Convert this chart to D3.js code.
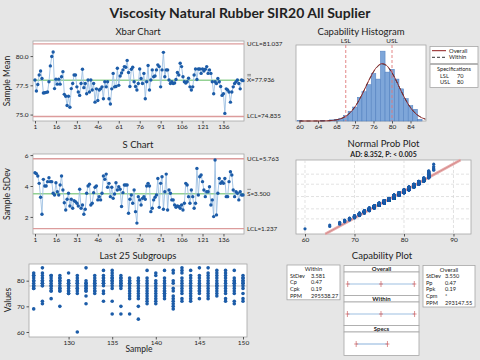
<!DOCTYPE html>
<html>
<head>
<meta charset="utf-8">
<script src="https://cdn.jsdelivr.net/npm/d3@7"></script>
<style>
  body { margin: 0; background: #e6e6e6; }
  text { font-family: Lato, "Noto Sans", sans-serif; fill: #222; }
</style>
</head>
<body>
<div id="chart"></div>
<script>
// ---- data ----
var chartTitle = "Viscosity Natural Rubber SIR20 All Suplier";

// subgroup means, subgroups 1..150 (n = 12)
var xbarMeans = [77.95,77.02,77.57,78.38,78.73,78.09,76.84,76.87,76.90,76.93,
  77.80,79.16,79.97,80.35,77.22,78.03,77.60,78.03,77.60,78.23,
  78.67,76.73,76.56,75.77,76.56,75.63,77.22,77.65,78.38,78.38,
  77.37,76.93,76.64,77.65,78.87,77.30,77.65,76.78,77.95,76.93,
  77.95,77.10,77.65,76.06,77.20,76.20,77.10,77.20,77.37,76.35,
  77.80,77.37,77.80,76.35,75.90,77.20,78.52,77.37,77.40,78.96,
  77.50,78.30,78.55,78.82,79.10,79.05,79.63,78.60,77.40,78.87,
  79.05,77.80,77.40,77.10,77.65,78.90,78.09,77.65,78.52,76.35,
  77.80,79.19,77.10,77.95,78.82,78.23,78.30,78.82,79.25,79.10,
  77.37,78.82,80.32,78.23,78.82,78.82,77.95,77.65,77.80,77.65,
  77.70,78.00,78.60,78.38,79.39,79.10,78.23,77.80,77.70,77.80,
  78.10,77.37,77.10,77.37,78.38,78.90,78.00,78.90,78.90,78.52,
  78.90,78.73,78.87,79.10,78.52,78.82,78.52,77.80,76.78,77.80,
  77.65,78.09,77.80,77.40,76.64,76.78,75.10,77.20,77.10,76.93,
  76.06,76.93,77.37,77.65,77.80,77.95,77.65,77.20,77.95,77.90];

// subgroup standard deviations, subgroups 1..150
var sDevs = [4.86,4.80,4.65,4.17,3.27,2.17,4.43,4.00,4.00,4.28,
  4.54,4.28,4.28,3.53,3.42,4.21,3.63,3.42,4.06,4.65,
  3.74,2.92,2.45,3.14,3.53,2.71,3.14,2.56,3.05,2.99,
  2.88,2.71,3.79,2.56,2.77,2.17,2.50,3.53,4.00,4.11,
  2.77,2.88,3.57,3.92,4.00,3.10,3.31,3.10,3.53,4.65,
  4.43,4.77,3.92,4.17,3.31,3.92,3.20,3.48,4.21,3.74,
  3.95,3.79,2.67,3.57,4.06,4.06,4.06,2.24,3.14,3.42,
  2.88,3.74,2.34,1.60,3.31,3.10,2.77,3.20,3.31,3.14,
  4.00,4.17,4.00,2.34,2.56,3.10,3.27,3.42,4.49,2.62,
  4.17,4.60,2.50,3.63,4.77,2.45,3.74,3.53,3.10,3.10,
  2.77,2.62,2.71,2.67,2.56,2.77,2.45,2.88,4.17,4.06,
  3.31,2.88,3.74,3.31,2.56,2.88,5.14,3.42,4.60,4.71,
  4.28,3.74,3.31,3.63,3.63,3.95,2.77,3.10,2.02,5.68,
  2.13,3.53,4.49,4.17,4.28,4.17,4.49,3.31,3.31,4.28,
  4.92,4.71,3.74,3.31,3.63,3.53,3.10,3.63,3.42,3.42];

var sampleTicks = [1, 16, 31, 46, 61, 76, 91, 106, 121, 136];
var xbarTicks = [75, 77.5, 80];
var sTicks = [2, 4, 6];

var xbarCenter = 77.936, xbarUCL = 81.037, xbarLCL = 74.835;
var sCenter = 3.500, sUCL = 5.763, sLCL = 1.237;

// last 25 subgroups: individual observations
var last25Samples = [126,127,128,129,130,131,132,133,134,135,136,137,138,139,140,141,142,143,144,145,146,147,148,149,150];
var last25Values = [
  [83,82,82,81,80,80,79,78,78,77,77,69],
  [85,83,82,81,80,79,79,78,78,72,71,80],
  [82,82,81,80,79,78,78,77,76,76,73,80],
  [82,81,81,80,79,78,77,77,76,76,70,80],
  [83,80,80,79,78,78,77,76,76,75,75,79],
  [82,81,80,80,79,78,77,77,76,75,60,79],
  [85,80,79,78,78,77,76,76,74,71,79,77],
  [82,81,80,79,79,78,78,77,76,76,75,80],
  [84,82,81,80,79,79,78,76,75,72,80,81],
  [84,83,82,81,80,78,77,72,67,81,79,80],
  [82,81,80,79,78,77,70,67,80,79,81,78],
  [81,80,79,77,76,75,74,73,67,80,78,79],
  [81,80,79,77,76,75,74,73,70,65,78,80],
  [84,81,80,78,77,76,75,74,73,72,71,79],
  [83,82,80,78,77,76,74,73,72,71,79,75],
  [84,81,78,77,76,75,74,73,80,79,76,75],
  [84,83,80,79,77,76,74,73,72,70,69,71],
  [85,84,83,81,80,79,77,76,75,73,72,78],
  [84,82,80,78,76,75,74,73,72,77,79,81],
  [85,81,80,79,78,77,76,75,73,82,78,76],
  [85,83,81,80,79,78,77,76,75,74,73,82],
  [84,83,82,80,79,78,77,76,75,74,81,78],
  [84,83,82,80,79,78,76,75,73,72,81,77],
  [84,80,79,78,77,75,72,71,81,76,79,80],
  [82,81,80,79,78,77,75,73,72,80,79,81]];
var last25XTicks = [130, 135, 140, 145, 150];
var last25YTicks = [60, 70, 80];

// distribution of all observations (value -> count)
var histValues = [60,65,67,68,69,70,71,72,73,74,75,76,77,78,79,80,81,82,83,84,85,86];
var histCounts = [1,2,4,6,10,20,35,50,85,105,130,170,150,250,175,185,150,115,80,55,42,6];
var histTicks = [60, 64, 68, 72, 76, 80, 84];
var probTicks = [60, 70, 80, 90];
var probGrid = [0.01, 0.10, 0.50, 0.90, 0.99];

var LSL = 70, USL = 80;
var sdWithin = 3.581, sdOverall = 3.550;
var withinRows = [["StDev","3.581"],["Cp","0.47"],["Cpk","0.19"],["PPM","295538.27"]];
var overallRows = [["StDev","3.550"],["Pp","0.47"],["Ppk","0.19"],["Cpm","*"],["PPM","293147.55"]];

// ---- colours ----
var blue = "#1c5ca8", lineBlue = "#9dbfe2", limitRed = "#dc9c9c", centerGreen = "#93d193";
var frame = "#a6a6a6";

var svg = d3.select("#chart").append("svg").attr("width", 480).attr("height", 360);
svg.append("rect").attr("width", 480).attr("height", 360).attr("fill", "#e6e6e6");

svg.append("text").attr("x", 240).attr("y", 18).attr("text-anchor", "middle")
  .attr("font-size", 14).attr("font-weight", "bold").text(chartTitle);

function label(x, y, t, size, anchor, extra) {
  var el = svg.append("text").attr("x", x).attr("y", y).attr("font-size", size)
    .attr("text-anchor", anchor || "start").text(t);
  if (extra) extra(el);
  return el;
}
function box(x, y, w, h) {
  return svg.append("rect").attr("x", x).attr("y", y).attr("width", w).attr("height", h)
    .attr("fill", "white").attr("stroke", frame).attr("stroke-width", 0.8);
}
function styleAxis(g) {
  g.select(".domain").remove();
  g.attr("font-family", "Lato, Noto Sans, sans-serif").attr("font-size", 6.5).attr("color", "#555");
  g.selectAll("text").attr("fill", "#333");
}
function yTitle(x, y, t) {
  svg.append("text").attr("transform", "translate(" + x + "," + y + ") rotate(-90)")
    .attr("text-anchor", "middle").attr("font-size", 8.5).text(t);
}

// ---- control chart helper ----
function controlChart(o) {
  var x = d3.scaleLinear().domain([1, 150]).range([35, 243]);
  var y = d3.scaleLinear().domain(o.yDomain).range([o.bottom, o.top]);
  box(33, o.top, 211, o.bottom - o.top);
  label(138, o.top - 6, o.title, 9.5, "middle");
  yTitle(10, (o.top + o.bottom) / 2, o.yLabel);

  var gy = svg.append("g").attr("transform", "translate(33,0)")
    .call(d3.axisLeft(y).tickValues(o.yTicks).tickSize(2.5).tickPadding(2).tickFormat(o.fmt));
  styleAxis(gy);
  var gx = svg.append("g").attr("transform", "translate(0," + o.bottom + ")")
    .call(d3.axisBottom(x).tickValues(sampleTicks).tickSize(2.5).tickPadding(1));
  styleAxis(gx);

  [[o.ucl, limitRed], [o.lcl, limitRed], [o.center, centerGreen]].forEach(function (l) {
    svg.append("line").attr("x1", 33).attr("x2", 244).attr("y1", y(l[0])).attr("y2", y(l[0]))
      .attr("stroke", l[1]).attr("stroke-width", 1.3);
  });

  svg.append("path").datum(o.values)
    .attr("d", d3.line().x(function (d, i) { return x(i + 1); }).y(function (d) { return y(d); }))
    .attr("fill", "none").attr("stroke", lineBlue).attr("stroke-width", 0.9);
  svg.append("g").selectAll("circle").data(o.values).enter().append("circle")
    .attr("cx", function (d, i) { return x(i + 1); }).attr("cy", function (d) { return y(d); })
    .attr("r", 1.7).attr("fill", blue);

  var grey = function (e) { e.attr("fill", "#444"); };
  label(247, y(o.ucl) + 2, "UCL=" + o.ucl.toFixed(3), 6.3, "start", grey);
  label(247, y(o.lcl) + 2, "LCL=" + o.lcl.toFixed(3), 6.3, "start", grey);
  label(247, y(o.center) + 2, o.centerName + "=" + o.center.toFixed(3), 6.3, "start", grey);
  // bars over the centre symbol
  var cy = y(o.center);
  for (var k = 0; k < o.bars; k++) {
    svg.append("line").attr("x1", 247.3).attr("x2", 251).attr("y1", cy - 4.4 - k * 1.4).attr("y2", cy - 4.4 - k * 1.4)
      .attr("stroke", "#444").attr("stroke-width", 0.5);
  }
}

controlChart({ title: "Xbar Chart", yLabel: "Sample Mean", top: 41, bottom: 121,
  yDomain: [74.45, 81.29], yTicks: xbarTicks, fmt: d3.format(".1f"), values: xbarMeans,
  ucl: xbarUCL, lcl: xbarLCL, center: xbarCenter, centerName: "X", bars: 2 });

controlChart({ title: "S Chart", yLabel: "Sample StDev", top: 154, bottom: 234,
  yDomain: [0.895, 6.07], yTicks: sTicks, fmt: d3.format("d"), values: sDevs,
  ucl: sUCL, lcl: sLCL, center: sCenter, centerName: "S", bars: 1 });

// ---- last 25 subgroups ----
(function () {
  var top = 264, bottom = 337;
  var x = d3.scaleLinear().domain([126, 150]).range([33.7, 243]);
  var y = d3.scaleLinear().domain([58.05, 86.5]).range([bottom, top]);
  box(29, top, 218, bottom - top);
  label(138, 259, "Last 25 Subgroups", 9.5, "middle");
  yTitle(11, 300, "Values");
  label(139, 352, "Sample", 8.5, "middle");
  var gy = svg.append("g").attr("transform", "translate(29,0)")
    .call(d3.axisLeft(y).tickValues(last25YTicks).tickSize(2.5).tickPadding(2));
  styleAxis(gy);
  var gx = svg.append("g").attr("transform", "translate(0," + bottom + ")")
    .call(d3.axisBottom(x).tickValues(last25XTicks).tickSize(2.5).tickPadding(1));
  styleAxis(gx);
  svg.append("line").attr("x1", 29).attr("x2", 247).attr("y1", y(xbarCenter)).attr("y2", y(xbarCenter))
    .attr("stroke", "#c8c8c8").attr("stroke-width", 1);
  var pts = [];
  last25Samples.forEach(function (s, i) {
    last25Values[i].forEach(function (v) { pts.push([s, v]); });
  });
  svg.append("g").selectAll("circle").data(pts).enter().append("circle")
    .attr("cx", function (d) { return x(d[0]); }).attr("cy", function (d) { return y(d[1]); })
    .attr("r", 1.8).attr("fill", blue);
})();

// ---- capability histogram ----
function normPdf(x, m, s) { return Math.exp(-0.5 * Math.pow((x - m) / s, 2)) / (s * Math.sqrt(2 * Math.PI)); }
var total = d3.sum(histCounts);
(function () {
  var top = 45, bottom = 121;
  var x = d3.scaleLinear().domain([59.24, 87.35]).range([296, 426]);
  var y = d3.scaleLinear().domain([0, 272]).range([bottom, top]);
  box(296, top, 130, bottom - top);
  label(361, 35, "Capability Histogram", 9.5, "middle");
  var gx = svg.append("g").attr("transform", "translate(0," + bottom + ")")
    .call(d3.axisBottom(x).tickValues(histTicks).tickSize(2.5).tickPadding(1));
  styleAxis(gx);
  // one bar per integer value, centred on it
  svg.append("g").selectAll("rect").data(histValues).enter().append("rect")
    .attr("x", function (d) { return x(d - 0.5); })
    .attr("width", function (d) { return x(d + 0.5) - x(d - 0.5); })
    .attr("y", function (d, i) { return y(histCounts[i]); })
    .attr("height", function (d, i) { return bottom - y(histCounts[i]); })
    .attr("fill", "#7ea6d9").attr("stroke", "#4c7cbd").attr("stroke-width", 0.5);
  var grid = d3.range(60, 87.3, 0.2);
  [[sdWithin, "4,3", "#333"], [sdOverall, null, "#8e1b1b"]].forEach(function (c) {
    svg.append("path").datum(grid)
      .attr("d", d3.line().x(function (d) { return x(d); })
        .y(function (d) { return y(total * normPdf(d, xbarCenter, c[0])); }))
      .attr("fill", "none").attr("stroke", c[2]).attr("stroke-width", 0.9)
      .attr("stroke-dasharray", c[1]);
  });
  [[LSL, "LSL"], [USL, "USL"]].forEach(function (s) {
    svg.append("line").attr("x1", x(s[0])).attr("x2", x(s[0])).attr("y1", top).attr("y2", bottom)
      .attr("stroke", "#e07878").attr("stroke-width", 0.9).attr("stroke-dasharray", "3,2");
    label(x(s[0]), 43, s[1], 6.3, "middle", function (e) { e.attr("fill", "#b83a3a"); });
  });
  // legend
  box(430, 46.5, 48, 17);
  svg.append("line").attr("x1", 432).attr("x2", 446).attr("y1", 50.7).attr("y2", 50.7).attr("stroke", "#8e1b1b");
  svg.append("line").attr("x1", 432).attr("x2", 446).attr("y1", 57.3).attr("y2", 57.3).attr("stroke", "#333").attr("stroke-dasharray", "3,2");
  label(449, 52.8, "Overall", 5.8);
  label(449, 59.4, "Within", 5.8);
  box(430, 64.5, 48, 23);
  label(454, 70.8, "Specifications", 5.6, "middle");
  label(440, 77.6, "LSL", 5.6); label(457, 77.6, "70", 5.6);
  label(440, 84.2, "USL", 5.6); label(457, 84.2, "80", 5.6);
})();

// ---- normal probability plot ----
function invNorm(p) {
  var a = [-39.69683028665376, 220.9460984245205, -275.9285104469687, 138.3577518672690, -30.66479806614716, 2.506628277459239];
  var b = [-54.47609879822406, 161.5858368580409, -155.6989798598866, 66.80131188771972, -13.28068155288572];
  var c = [-0.007784894002430293, -0.3223964580411365, -2.400758277161838, -2.549732539343734, 4.374664141464968, 2.938163982698783];
  var d = [0.007784695709041462, 0.3224671290700398, 2.445134137142996, 3.754408661907416];
  var q, r;
  if (p < 0.02425) {
    q = Math.sqrt(-2 * Math.log(p));
    return (((((c[0] * q + c[1]) * q + c[2]) * q + c[3]) * q + c[4]) * q + c[5]) / ((((d[0] * q + d[1]) * q + d[2]) * q + d[3]) * q + 1);
  }
  if (p > 1 - 0.02425) {
    q = Math.sqrt(-2 * Math.log(1 - p));
    return -(((((c[0] * q + c[1]) * q + c[2]) * q + c[3]) * q + c[4]) * q + c[5]) / ((((d[0] * q + d[1]) * q + d[2]) * q + d[3]) * q + 1);
  }
  q = p - 0.5; r = q * q;
  return (((((a[0] * r + a[1]) * r + a[2]) * r + a[3]) * r + a[4]) * r + a[5]) * q / (((((b[0] * r + b[1]) * r + b[2]) * r + b[3]) * r + b[4]) * r + 1);
}
(function () {
  var top = 160, bottom = 234;
  var x = d3.scaleLinear().domain([58.18, 93.54]).range([296, 471]);
  var y = d3.scaleLinear().domain([-3.9, 3.8]).range([bottom, top]);
  box(296, top, 175, bottom - top);
  label(383.5, 147, "Normal Prob Plot", 9.5, "middle");
  label(383.5, 156.5, "AD: 8.352, P: < 0.005", 7, "middle", function (e) { e.attr("font-weight", "bold").attr("fill", "#333"); });
  probTicks.forEach(function (t) {
    svg.append("line").attr("x1", x(t)).attr("x2", x(t)).attr("y1", top).attr("y2", bottom)
      .attr("stroke", "#d6d6d6").attr("stroke-width", 0.7).attr("stroke-dasharray", "3,2");
  });
  probGrid.forEach(function (p) {
    svg.append("line").attr("x1", 296).attr("x2", 471).attr("y1", y(invNorm(p))).attr("y2", y(invNorm(p)))
      .attr("stroke", "#d6d6d6").attr("stroke-width", 0.7).attr("stroke-dasharray", "3,2");
  });
  var gx = svg.append("g").attr("transform", "translate(0," + bottom + ")")
    .call(d3.axisBottom(x).tickValues(probTicks).tickSize(2.5).tickPadding(1));
  styleAxis(gx);
  // fitted line
  var fx1 = x(xbarCenter + y.domain()[0] * sdOverall), fx2 = x(xbarCenter + y.domain()[1] * sdOverall);
  svg.append("line").attr("x1", fx1).attr("y1", bottom).attr("x2", fx2).attr("y2", top)
    .attr("stroke", "#e6acac").attr("stroke-width", 2.6);
  svg.append("line").attr("x1", fx1).attr("y1", bottom).attr("x2", fx2).attr("y2", top)
    .attr("stroke", "#c86a6a").attr("stroke-width", 0.5);
  var pts = [], rank = 0;
  histValues.forEach(function (v, i) {
    for (var k = 0; k < histCounts[i]; k++) {
      rank++;
      pts.push([v, invNorm((rank - 0.3) / (total + 0.4))]);
    }
  });
  svg.append("g").selectAll("circle").data(pts).enter().append("circle")
    .attr("cx", function (d) { return x(d[0]); }).attr("cy", function (d) { return y(d[1]); })
    .attr("r", 1.6).attr("fill", blue);
})();

// ---- capability plot ----
(function () {
  label(382, 259, "Capability Plot", 9.5, "middle");
  var x = d3.scaleLinear().domain([67.29, 88.59]).range([347.7, 414.3]);
  function statBox(bx, by, w, title, rows, labX, valX) {
    box(bx, by, w, 8 + rows.length * 6.7);
    label(bx + w / 2, by + 6, title, 5.8, "middle");
    rows.forEach(function (r, i) {
      label(labX, by + 12.5 + i * 6.7, r[0], 5.6);
      label(valX, by + 12.5 + i * 6.7, r[1], 5.6);
    });
  }
  statBox(287, 265, 53, "Within", withinRows, 290, 311);
  statBox(423, 265.5, 52, "Overall", overallRows, 426, 445);

  var sections = [
    { name: "Overall", y0: 265.5, lo: xbarCenter - 3 * sdOverall, hi: xbarCenter + 3 * sdOverall, mid: true },
    { name: "Within", y0: 295.5, lo: xbarCenter - 3 * sdWithin, hi: xbarCenter + 3 * sdWithin, mid: true },
    { name: "Specs", y0: 325.5, lo: LSL, hi: USL, mid: false }];
  sections.forEach(function (s) {
    box(344, s.y0, 75, 6.5);
    label(381.5, s.y0 + 5.3, s.name, 6, "middle", function (e) { e.attr("font-weight", "bold"); });
    box(344, s.y0 + 6.5, 75, 23.5);
    var ly = s.y0 + 18.5;
    svg.append("line").attr("x1", x(s.lo)).attr("x2", x(s.hi)).attr("y1", ly).attr("y2", ly)
      .attr("stroke", lineBlue).attr("stroke-width", 1.2);
    var marks = s.mid ? [s.lo, xbarCenter, s.hi] : [s.lo, s.hi];
    marks.forEach(function (m) {
      svg.append("line").attr("x1", x(m)).attr("x2", x(m)).attr("y1", ly - 3).attr("y2", ly + 3)
        .attr("stroke", "#d06060").attr("stroke-width", 0.7);
      svg.append("line").attr("x1", x(m) - 2).attr("x2", x(m) + 2).attr("y1", ly).attr("y2", ly)
        .attr("stroke", "#d06060").attr("stroke-width", 0.7);
    });
  });
})();
</script>
</body>
</html>
